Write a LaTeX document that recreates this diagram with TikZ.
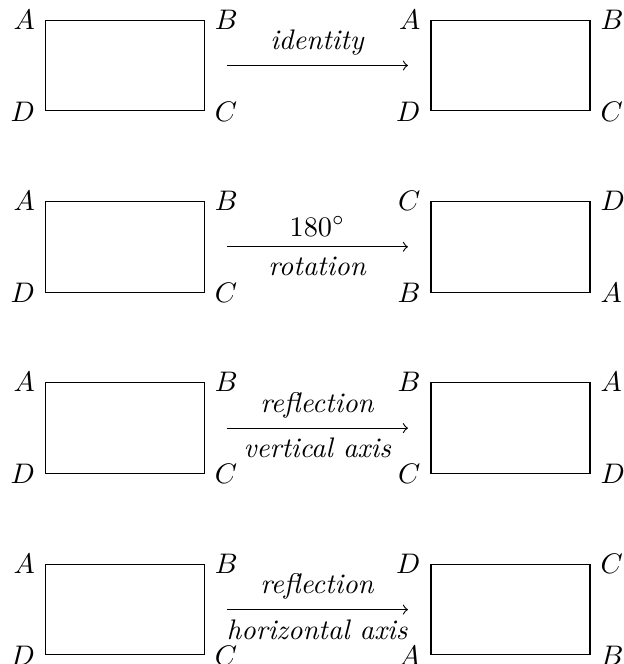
\documentclass[tikz,border=0pt]{standalone}
\begin{document}
\begin{tikzpicture}[x=0.3534pt,y=-0.3534pt,
  box/.style={draw, inner sep=0pt, minimum width=56.2pt, minimum height=32pt},
  lbl/.style={inner sep=3.33pt},
  map/.style={->}]
\useasboundingbox (0,0) rectangle (624,664);
% row 1
\node[box] (L1) at (124.8,65.5) {};
\node[box] (R1) at (510.5,65.5) {};
\node[lbl,left]  (L1a) at (L1.north west) {$A$};
\node[lbl,right] (L1b) at (L1.north east) {$B$};
\node[lbl,right] (L1c) at (L1.south east) {$C$};
\node[lbl,left]  (L1d) at (L1.south west) {$D$};
\node[lbl,left]  (R1a) at (R1.north west) {$A$};
\node[lbl,right] (R1b) at (R1.north east) {$B$};
\node[lbl,right] (R1c) at (R1.south east) {$C$};
\node[lbl,left]  (R1d) at (R1.south west) {$D$};
\coordinate (s1) at (226.7,65.5);
\coordinate (e1) at (408,65.5);
\draw[map] (s1) -- node[above,lbl] (t1) {\textit{identity}} (e1);
% row 2
\node[box] (L2) at (124.8,246.8) {};
\node[box] (R2) at (510.5,246.8) {};
\node[lbl,left]  (L2a) at (L2.north west) {$A$};
\node[lbl,right] (L2b) at (L2.north east) {$B$};
\node[lbl,right] (L2c) at (L2.south east) {$C$};
\node[lbl,left]  (L2d) at (L2.south west) {$D$};
\node[lbl,left]  (R2a) at (R2.north west) {$C$};
\node[lbl,right] (R2b) at (R2.north east) {$D$};
\node[lbl,right] (R2c) at (R2.south east) {$A$};
\node[lbl,left]  (R2d) at (R2.south west) {$B$};
\coordinate (s2) at (226.7,246.8);
\coordinate (e2) at (408,246.8);
\draw[map] (s2) -- node[above,lbl] (t2) {180$^\circ$} node[below,lbl] (u2) {\textit{rotation}} (e2);
% row 3
\node[box] (L3) at (124.8,428.1) {};
\node[box] (R3) at (510.5,428.1) {};
\node[lbl,left]  (L3a) at (L3.north west) {$A$};
\node[lbl,right] (L3b) at (L3.north east) {$B$};
\node[lbl,right] (L3c) at (L3.south east) {$C$};
\node[lbl,left]  (L3d) at (L3.south west) {$D$};
\node[lbl,left]  (R3a) at (R3.north west) {$B$};
\node[lbl,right] (R3b) at (R3.north east) {$A$};
\node[lbl,right] (R3c) at (R3.south east) {$D$};
\node[lbl,left]  (R3d) at (R3.south west) {$C$};
\coordinate (s3) at (226.7,428.1);
\coordinate (e3) at (408,428.1);
\draw[map] (s3) -- node[above,lbl] (t3) {\textit{reflection}} node[below,lbl] (u3) {\textit{vertical axis}} (e3);
% row 4
\node[box] (L4) at (124.8,609.6) {};
\node[box] (R4) at (510.5,609.6) {};
\node[lbl,left]  (L4a) at (L4.north west) {$A$};
\node[lbl,right] (L4b) at (L4.north east) {$B$};
\node[lbl,right] (L4c) at (L4.south east) {$C$};
\node[lbl,left]  (L4d) at (L4.south west) {$D$};
\node[lbl,left]  (R4a) at (R4.north west) {$D$};
\node[lbl,right] (R4b) at (R4.north east) {$C$};
\node[lbl,right] (R4c) at (R4.south east) {$B$};
\node[lbl,left]  (R4d) at (R4.south west) {$A$};
\coordinate (s4) at (226.7,609.6);
\coordinate (e4) at (408,609.6);
\draw[map] (s4) -- node[above,lbl] (t4) {\textit{reflection}} node[below,lbl] (u4) {\textit{horizontal axis}} (e4);
\end{tikzpicture}
\end{document}
